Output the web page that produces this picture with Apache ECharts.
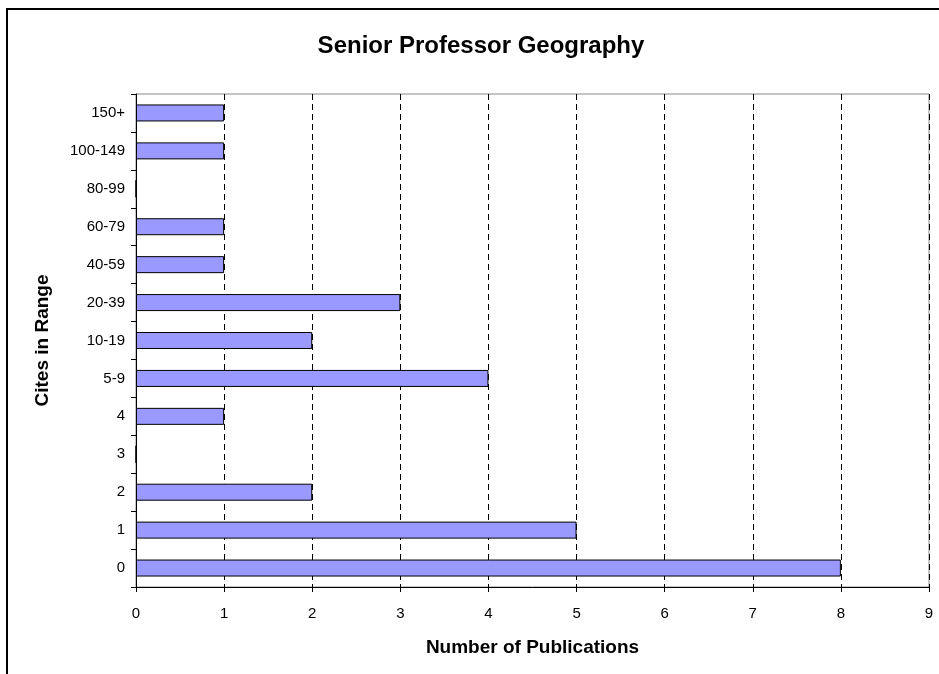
<!DOCTYPE html>
<html>
<head>
  <meta charset="UTF-8">
  <title>Senior Professor Geography</title>
  <style>
    html, body { margin: 0; padding: 0; background: #fff; }
    #chart { width: 939px; height: 674px; }
  </style>
</head>
<body>
  <div id="chart"></div>
  <script src="https://cdn.jsdelivr.net/npm/echarts@6/dist/echarts.min.js"></script>
  <script>
    // cite ranges, bottom to top
    const categories = ['0', '1', '2', '3', '4', '5-9', '10-19', '20-39', '40-59', '60-79', '80-99', '100-149', '150+'];
    const publications = [8, 5, 2, 0, 1, 4, 2, 3, 1, 1, 0, 1, 1];
    const xTicks = [0, 1, 2, 3, 4, 5, 6, 7, 8, 9];

    const chart = echarts.init(document.getElementById('chart'));
    const font = 'Liberation Sans, Arial, sans-serif';

    chart.setOption({
      animation: false,
      title: {
        text: 'Senior Professor Geography',
        left: 476,
        top: 29,
        textAlign: 'center',
        textStyle: { fontFamily: font, fontSize: 24, fontWeight: 'bold', color: '#000' }
      },
      graphic: [{
        type: 'rect',
        shape: { x: 7, y: 9, width: 960, height: 700 },
        style: { fill: null, stroke: '#000', lineWidth: 2 }
      }],
      grid: {
        left: 136, right: 10, top: 94, bottom: 87,
        show: true, borderColor: '#888', borderWidth: 1
      },
      xAxis: {
        type: 'value',
        min: xTicks[0],
        max: xTicks[xTicks.length - 1],
        interval: 1,
        name: 'Number of Publications',
        nameLocation: 'middle',
        nameGap: 51,
        nameTextStyle: { fontFamily: font, fontSize: 19, fontWeight: 'bold', color: '#000' },
        axisLine: { show: true, lineStyle: { color: '#000' } },
        axisTick: { show: true, length: 5, lineStyle: { color: '#000' } },
        axisLabel: { fontFamily: font, fontSize: 15, color: '#000', margin: 19 },
        splitLine: { show: true, lineStyle: { color: '#000', type: [6, 4] } }
      },
      yAxis: {
        type: 'category',
        data: categories,
        name: 'Cites in Range',
        nameLocation: 'middle',
        nameGap: 84,
        nameRotate: 90,
        nameTextStyle: { fontFamily: font, fontSize: 19, fontWeight: 'bold', color: '#000' },
        axisLine: { show: true, lineStyle: { color: '#000' } },
        axisTick: { show: true, length: 5, lineStyle: { color: '#000' } },
        axisLabel: { fontFamily: font, fontSize: 15, color: '#000', margin: 11 },
        splitLine: { show: false }
      },
      series: [{
        type: 'bar',
        data: publications,
        barWidth: 17,
        itemStyle: { color: '#9999ff', borderColor: '#000', borderWidth: 1 }
      }]
    });
  </script>
</body>
</html>
